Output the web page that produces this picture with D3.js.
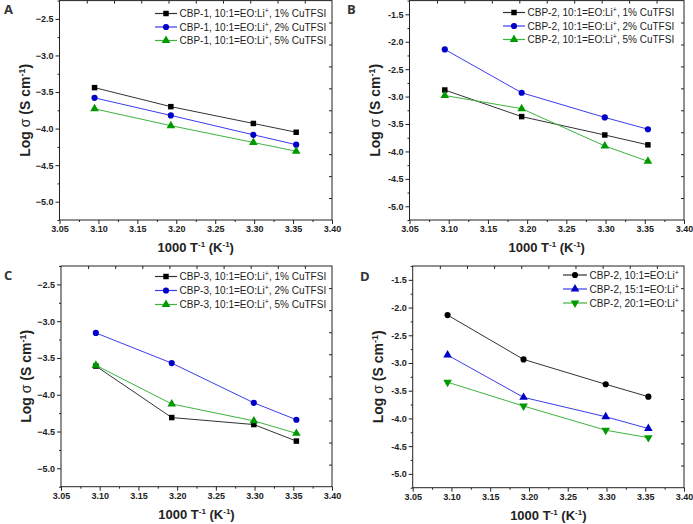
<!DOCTYPE html>
<html>
  <head>
    <meta charset="utf-8">
    <style>
    body {
      font-family: "Liberation Sans", Arial, sans-serif;
      margin: 0;
      background: #fff;
    }
    .tick text { font-family: "Liberation Sans", Arial, sans-serif; font-weight: bold; font-size: 9px; fill: #222; }
    </style>
  </head>
  <body>
    <script src="https://d3js.org/d3.v7.min.js"></script>
    <script>

// x positions (1000/T) shared by all panels
var xVals = [3.095, 3.193, 3.299, 3.354];
var xTicks = [3.05, 3.10, 3.15, 3.20, 3.25, 3.30, 3.35, 3.40];
var yTicksAC = [-5.0, -4.5, -4.0, -3.5, -3.0, -2.5];
var yTicksBD = [-5.0, -4.5, -4.0, -3.5, -3.0, -2.5, -2.0, -1.5];

// panel A : CBP-1
var a1 = [-3.44, -3.70, -3.93, -4.05];
var a2 = [-3.58, -3.82, -4.085, -4.22];
var a5 = [-3.73, -3.96, -4.19, -4.31];
// panel B : CBP-2
var b1 = [-2.88, -3.365, -3.70, -3.88];
var b2 = [-2.14, -2.93, -3.38, -3.595];
var b5 = [-2.98, -3.22, -3.90, -4.18];
// panel C : CBP-3
var c1 = [-3.61, -4.31, -4.405, -4.63];
var c2 = [-3.16, -3.57, -4.11, -4.34];
var c5 = [-3.60, -4.125, -4.355, -4.525];
// panel D : CBP-2, EO:Li ratios
var d10 = [-2.136, -2.935, -3.384, -3.608];
var d15 = [-2.857, -3.62, -3.97, -4.183];
var d20 = [-3.347, -3.777, -4.213, -4.347];

var labelsA = ["CBP-1, 10:1=EO:Li|, 1% CuTFSI", "CBP-1, 10:1=EO:Li|, 2% CuTFSI", "CBP-1, 10:1=EO:Li|, 5% CuTFSI"];
var labelsB = ["CBP-2, 10:1=EO:Li|, 1% CuTFSI", "CBP-2, 10:1=EO:Li|, 2% CuTFSI", "CBP-2, 10:1=EO:Li|, 5% CuTFSI"];
var labelsC = ["CBP-3, 10:1=EO:Li|, 1% CuTFSI", "CBP-3, 10:1=EO:Li|, 2% CuTFSI", "CBP-3, 10:1=EO:Li|, 5% CuTFSI"];
var labelsD = ["CBP-2, 10:1=EO:Li|", "CBP-2, 15:1=EO:Li|", "CBP-2, 20:1=EO:Li|"];

var BLACK = {mark: "#000", line: "#333"};
var BLUE = {mark: "#0000c8", line: "#3c3cf0"};
var GREEN = {mark: "#009a00", line: "#3cb43c"};

var panels = [
  {letter: "A", lx: 4, ly: 14, x0: 59.5, x1: 332, y0: 0.6, y1: 220, ydom: [-5.25, -2.25], yt: yTicksAC, minus: "\u2212",
   series: [a1, a2, a5], labels: labelsA, styles: [BLACK, BLUE, GREEN], shapes: ["square", "circle", "triangle"],
   legX: 155, legY: 13.5, legStep: 13.5, legLen: 22},
  {letter: "B", lx: 347, ly: 14, x0: 409.5, x1: 684, y0: 0.6, y1: 220, ydom: [-5.25, -1.25], yt: yTicksBD, minus: "-",
   series: [b1, b2, b5], labels: labelsB, styles: [BLACK, BLUE, GREEN], shapes: ["square", "circle", "triangle"],
   legX: 503, legY: 12.5, legStep: 13.5, legLen: 22},
  {letter: "C", lx: 4, ly: 280, x0: 61, x1: 332, y0: 266, y1: 486.7, ydom: [-5.25, -2.25], yt: yTicksAC, minus: "\u2212",
   series: [c1, c2, c5], labels: labelsC, styles: [BLACK, BLUE, GREEN], shapes: ["square", "circle", "triangle"],
   legX: 155, legY: 276.5, legStep: 14, legLen: 22},
  {letter: "D", lx: 360, ly: 281, x0: 412.7, x1: 684, y0: 266, y1: 487.7, ydom: [-5.25, -1.25], yt: yTicksBD, minus: "-",
   series: [d10, d15, d20], labels: labelsD, styles: [BLACK, BLUE, GREEN], shapes: ["circle", "triangle", "triangleDown"],
   legX: 563, legY: 275, legStep: 14, legLen: 24}
];

var svg = d3.select("body").append("svg")
    .attr("width", 693)
    .attr("height", 524);

function symbolFor(shape) {
  if (shape === "square") return d3.symbol().type(d3.symbolSquare).size(30);
  if (shape === "circle") return d3.symbol().type(d3.symbolCircle).size(30);
  return d3.symbol().type(d3.symbolTriangle).size(32);
}

function supText(sel, str) {
  // "|" marks a superscript +
  var parts = str.split("|");
  sel.append("tspan").text(parts[0]);
  sel.append("tspan").attr("dy", -4).style("font-size", "7px").text("+");
  sel.append("tspan").attr("dy", 4).text(parts[1]);
}

panels.forEach(function(p) {
  var x = d3.scaleLinear().domain([3.05, 3.40]).range([p.x0, p.x1]);
  var y = d3.scaleLinear().domain(p.ydom).range([p.y1, p.y0]);
  var g = svg.append("g");

  var fmtY = function(d) { return d3.format(".1f")(d).replace("\u2212", p.minus).replace("-", p.minus); };

  // left axis, majors + minors
  var yMinor = p.yt.map(function(d) { return d + 0.25; }).concat([p.yt[0] - 0.25]);
  g.append("g").attr("transform", "translate(" + p.x0 + ",0)")
      .call(d3.axisLeft(y).tickValues(yMinor).tickSize(2).tickFormat(""))
      .call(function(s) { s.select(".domain").remove(); });
  g.append("g").attr("transform", "translate(" + p.x0 + ",0)")
      .call(d3.axisLeft(y).tickValues(p.yt).tickSize(4).tickPadding(2).tickFormat(fmtY))
      .call(function(s) { s.select(".domain").remove(); });

  // bottom axis
  var xMinor = xTicks.slice(0, -1).map(function(d) { return d + 0.025; });
  g.append("g").attr("transform", "translate(0," + p.y1 + ")")
      .call(d3.axisBottom(x).tickValues(xMinor).tickSize(2).tickFormat(""))
      .call(function(s) { s.select(".domain").remove(); });
  g.append("g").attr("transform", "translate(0," + p.y1 + ")")
      .call(d3.axisBottom(x).tickValues(xTicks).tickSize(4).tickPadding(2).tickFormat(d3.format(".2f")))
      .call(function(s) { s.select(".domain").remove(); });

  // mirrored top / right ticks (inward, evenly spaced)
  var tx = d3.scaleLinear().domain([0, 10]).range([p.x0, p.x1]);
  var ty = d3.scaleLinear().domain([0, 10]).range([p.y1, p.y0]);
  g.append("g").attr("transform", "translate(0," + p.y0 + ")")
      .call(d3.axisBottom(tx).tickValues(d3.range(1, 10)).tickSize(3).tickFormat(""))
      .call(function(s) { s.select(".domain").remove(); });
  g.append("g").attr("transform", "translate(" + p.x1 + ",0)")
      .call(d3.axisLeft(ty).tickValues(d3.range(1, 10)).tickSize(3).tickFormat(""))
      .call(function(s) { s.select(".domain").remove(); });

  g.selectAll(".tick line").attr("stroke", "#222");

  // frame
  g.append("rect")
      .attr("x", p.x0).attr("y", p.y0)
      .attr("width", p.x1 - p.x0).attr("height", p.y1 - p.y0)
      .attr("fill", "none").attr("stroke", "#222").attr("stroke-width", 1);

  // series
  var line = d3.line().x(function(d, i) { return x(xVals[i]); }).y(function(d) { return y(d); });
  p.series.forEach(function(s, k) {
    g.append("path").datum(s)
        .attr("d", line)
        .attr("fill", "none")
        .attr("stroke", p.styles[k].line)
        .attr("stroke-width", 1);
    g.selectAll(".m" + k).data(s).enter().append("path")
        .attr("class", "m" + k)
        .attr("d", symbolFor(p.shapes[k]))
        .attr("transform", function(d, i) {
          return "translate(" + x(xVals[i]) + "," + y(d) + ")" + (p.shapes[k] === "triangleDown" ? " rotate(180)" : "");
        })
        .attr("fill", p.styles[k].mark);
  });

  // legend
  p.labels.forEach(function(lab, k) {
    var ly = p.legY + k * p.legStep;
    g.append("line")
        .attr("x1", p.legX).attr("x2", p.legX + p.legLen)
        .attr("y1", ly).attr("y2", ly)
        .attr("stroke", p.styles[k].line).attr("stroke-width", 1.2);
    g.append("path")
        .attr("d", symbolFor(p.shapes[k]))
        .attr("transform", "translate(" + (p.legX + p.legLen / 2) + "," + ly + ")" + (p.shapes[k] === "triangleDown" ? " rotate(180)" : ""))
        .attr("fill", p.styles[k].mark);
    var t = g.append("text")
        .attr("x", p.legX + p.legLen + 2.5)
        .attr("y", ly + 3.6)
        .style("font-size", "10px")
        .style("fill", "#222");
    supText(t, lab);
  });

  // axis titles
  var xt = g.append("text")
      .attr("x", (p.x0 + p.x1) / 2)
      .attr("y", p.y1 + 32)
      .attr("text-anchor", "middle")
      .style("font-size", "13px").style("font-weight", "bold").style("fill", "#222");
  xt.append("tspan").text("1000 T");
  xt.append("tspan").attr("dy", -5).style("font-size", "8px").text("-1");
  xt.append("tspan").attr("dy", 5).text(" (K");
  xt.append("tspan").attr("dy", -5).style("font-size", "8px").text("-1");
  xt.append("tspan").attr("dy", 5).text(")");

  var yt = g.append("text")
      .attr("transform", "translate(" + (p.x0 - 30) + "," + ((p.y0 + p.y1) / 2) + ") rotate(-90)")
      .attr("text-anchor", "middle")
      .style("font-size", "14px").style("font-weight", "bold").style("fill", "#222");
  yt.append("tspan").text("Log ");
  yt.append("tspan").style("font-weight", "normal").text("\u03c3");
  yt.append("tspan").text(" (S cm");
  yt.append("tspan").attr("dy", -5).style("font-size", "9px").text("-1");
  yt.append("tspan").attr("dy", 5).text(")");

  // panel letter
  g.append("text")
      .attr("x", p.lx).attr("y", p.ly)
      .style("font-family", "'Open Sans', 'Liberation Sans', sans-serif")
      .style("font-size", "13px").style("font-weight", "bold").style("fill", "#333")
      .text(p.letter);
});

    </script>
  </body>
</html>
